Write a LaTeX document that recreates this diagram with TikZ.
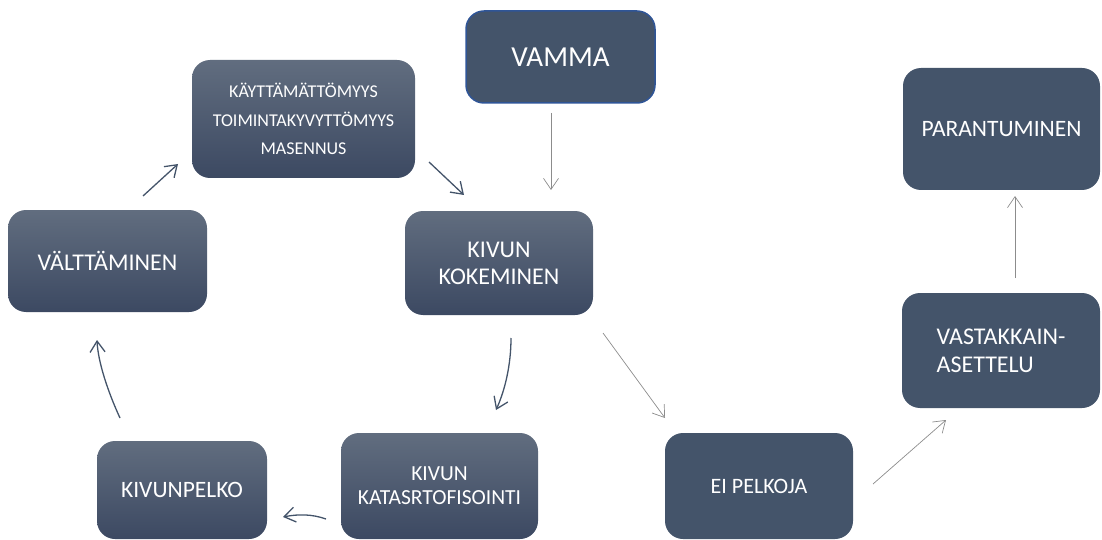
\documentclass[tikz,border=0pt]{standalone}
\usepackage{fontspec}
\setmainfont{Carlito}
\usetikzlibrary{arrows.meta}
\definecolor{slate}{HTML}{44546A}
\definecolor{gtop}{HTML}{616D7F}
\definecolor{gbot}{HTML}{3C4962}
\definecolor{vborder}{HTML}{2F5597}
\definecolor{thinarrow}{HTML}{8C8C8C}
\definecolor{darkarrow}{HTML}{44546A}
\tikzset{
  flatbox/.style={fill=slate, draw=none, rounded corners=18pt, text=white, align=center, inner sep=0pt},
  gradbox/.style={top color=gtop, bottom color=gbot, draw=none, rounded corners=18pt, text=white, align=center, inner sep=0pt},
  darkarr/.style={draw=darkarrow, line width=1.3pt, -{Straight Barb[length=11pt,width=15pt,line width=1.3pt]}},
  thinarr/.style={draw=thinarrow, line width=0.7pt, -{Straight Barb[length=11pt,width=15pt,line width=0.7pt]}}
}
\begin{document}
\begin{tikzpicture}[x=1pt,y=-1pt]
\useasboundingbox (0,0) rectangle (1102,540);
% nodes
\node[flatbox, draw=vborder, line width=1.5pt, minimum width=189pt, minimum height=92pt, font=\fontsize{29}{34}\selectfont] (vamma) at (560.5,57) {VAMMA};
\node[gradbox, minimum width=223pt, minimum height=118pt, font=\fontsize{18}{28.5}\selectfont] (kayt) at (303.5,119) {KÄYTTÄMÄTTÖMYYS\\TOIMINTAKYVYTTÖMYYS\\MASENNUS};
\node[gradbox, minimum width=199pt, minimum height=102pt, font=\fontsize{24}{28}\selectfont] (valtt) at (107.5,261) {VÄLTTÄMINEN};
\node[gradbox, minimum width=188pt, minimum height=104pt, font=\fontsize{24}{27}\selectfont] (kokem) at (499,263) {KIVUN\\KOKEMINEN};
\node[gradbox, minimum width=170pt, minimum height=98pt, font=\fontsize{23.5}{27}\selectfont] (pelko) at (182,490) {KIVUNPELKO};
\node[gradbox, minimum width=197pt, minimum height=106pt, font=\fontsize{21.5}{24}\selectfont] (katas) at (439.5,486) {KIVUN\\KATASRTOFISOINTI};
\node[flatbox, minimum width=188pt, minimum height=106pt, font=\fontsize{22}{26}\selectfont] (eipelk) at (759,486) {EI PELKOJA};
\node[flatbox, minimum width=197pt, minimum height=122pt, font=\fontsize{23.5}{27}\selectfont] (paran) at (1001.5,129) {PARANTUMINEN};
\node[flatbox, minimum width=198pt, minimum height=115pt, align=left, font=\fontsize{24}{28}\selectfont] (vast) at (1001,350.5) {VASTAKKAIN-\\ASETTELU};
% arrow end points
\coordinate (a1s) at (551,113); \coordinate (a1e) at (551,190);
\coordinate (a2s) at (429,162); \coordinate (a2e) at (464,195);
\coordinate (a3s) at (143,196); \coordinate (a3e) at (178,164);
\coordinate (a4s) at (120,418); \coordinate (a4e) at (97,340);
\coordinate (a5s) at (326,519); \coordinate (a5e) at (283,517);
\coordinate (a6s) at (511,338); \coordinate (a6e) at (496,410);
\coordinate (a7s) at (603,333); \coordinate (a7e) at (665,418);
\coordinate (a8s) at (873,484); \coordinate (a8e) at (946,420);
\coordinate (a9s) at (1015,278); \coordinate (a9e) at (1015,196);
% connectors
\draw[thinarr] (a1s) -- (a1e);
\draw[darkarr] (a2s) -- (a2e);
\draw[darkarr] (a3s) -- (a3e);
\draw[darkarr] (a4s) .. controls (108,392) and (98,362) .. (a4e);
\draw[darkarr] (a5s) .. controls (312,514) and (298,514) .. (a5e);
\draw[darkarr] (a6s) .. controls (511,365) and (505,390) .. (a6e);
\draw[thinarr] (a7s) -- (a7e);
\draw[thinarr] (a8s) -- (a8e);
\draw[thinarr] (a9s) -- (a9e);
\end{tikzpicture}
\end{document}
